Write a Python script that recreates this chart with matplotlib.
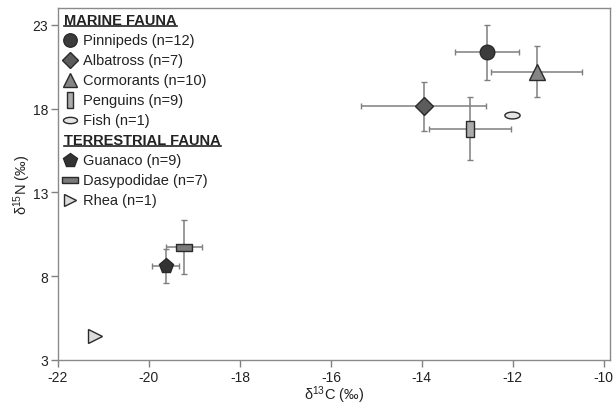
import numpy as np
import matplotlib
matplotlib.use("Agg")
import matplotlib.pyplot as plt
from matplotlib.lines import Line2D

plt.rcParams['font.family'] = ['Liberation Sans', 'DejaVu Sans']
plt.rcParams['mathtext.fontset'] = 'custom'
plt.rcParams['mathtext.rm'] = 'Liberation Sans'
plt.rcParams['mathtext.it'] = 'Liberation Sans:italic'
plt.rcParams['mathtext.bf'] = 'Liberation Sans:bold'

# group means and standard deviations
species = ["Pinnipeds (n=12)", "Albatross (n=7)", "Cormorants (n=10)", "Penguins (n=9)",
           "Fish (n=1)", "Guanaco (n=9)", "Dasypodidae (n=7)", "Rhea (n=1)"]
d13c = [-12.57, -13.96, -11.47, -12.95, -12.02, -19.63, -19.23, -21.19]
d15n = [21.35, 18.12, 20.2, 16.8, 17.64, 8.6, 9.73, 4.43]
sd_c = [0.7, 1.37, 1.0, 0.9, 0.0, 0.3, 0.4, 0.0]
sd_n = [1.65, 1.45, 1.5, 1.9, 0.0, 1.0, 1.6, 0.0]
marine = species[:5]
terrestrial = species[5:]

x_ticks = [-22, -20, -18, -16, -14, -12, -10]
y_ticks = [3, 8, 13, 18, 23]

# marker styles
tall_rect = [(-0.45, -1), (0.45, -1), (0.45, 1), (-0.45, 1), (-0.45, -1)]
wide_rect = [(-1, -0.42), (1, -0.42), (1, 0.42), (-1, 0.42), (-1, -0.42)]
t = np.linspace(0, 2 * np.pi, 40)
ellipse = list(zip(np.cos(t), 0.45 * np.sin(t)))
styles = {
    "Pinnipeds (n=12)": dict(marker='o', ms=10.5, fc='#3c3c3c'),
    "Albatross (n=7)": dict(marker='D', ms=9, fc='#5c5c5c'),
    "Cormorants (n=10)": dict(marker='^', ms=11, fc='#858585'),
    "Penguins (n=9)": dict(marker=tall_rect, ms=12, fc='#ababab'),
    "Fish (n=1)": dict(marker=ellipse, ms=11, fc='#e4e4e4'),
    "Guanaco (n=9)": dict(marker='p', ms=11, fc='#333333'),
    "Dasypodidae (n=7)": dict(marker=wide_rect, ms=12, fc='#7a7a7a'),
    "Rhea (n=1)": dict(marker='>', ms=10, fc='#dcdcdc'),
}

fig = plt.figure(figsize=(6.13, 4.06), dpi=100)
ax = fig.add_axes([0.0946, 0.111, 0.9, 0.867])

for i, name in enumerate(species):
    st = styles[name]
    if sd_c[i] > 0 or sd_n[i] > 0:
        ax.errorbar(d13c[i], d15n[i], xerr=sd_c[i], yerr=sd_n[i], fmt='none',
                    ecolor='#7f7f7f', elinewidth=1.1, capsize=2, capthick=1, zorder=2)
    ax.plot(d13c[i], d15n[i], linestyle='none', marker=st['marker'], ms=st['ms'],
            mfc=st['fc'], mec='#2a2a2a', mew=1.0, zorder=3)

ax.set_xlim(-22, -9.87)
ax.set_ylim(3, 24.0)
ax.set_xticks(x_ticks)
ax.set_xticklabels([str(v) for v in x_ticks])
ax.set_yticks(y_ticks)
ax.tick_params(direction='out', length=5, width=1, color='#808080',
               labelsize=10, labelcolor='#222222', pad=2)
for s in ax.spines.values():
    s.set_color('#8a8a8a')
    s.set_linewidth(1.0)

ax.set_xlabel(r"δ$^{13}$C (‰)", fontsize=10.5, color='#222222', labelpad=0)
ax.set_ylabel(r"δ$^{15}$N (‰)", fontsize=10.5, color='#222222')
ax.yaxis.set_label_coords(-0.045, 0.5)

# hand-made legend in pixel-like axes fraction coordinates
def px_to_ax(px, py):
    bb = ax.get_position()
    fx = (px / 613 - bb.x0) / bb.width
    fy = ((406 - py) / 406 - bb.y0) / bb.height
    return fx, fy

def header(text, py):
    fx, fy = px_to_ax(64, py)
    tx = ax.text(fx, fy, text, transform=ax.transAxes, fontsize=10.5, fontweight='bold',
                 va='center', ha='left', color='#222222')
    return tx

rows_y = {}
y = 21
headers = []
headers.append((header("MARINE FAUNA", y), y))
for name in marine:
    y += 20
    rows_y[name] = y
y += 20
headers.append((header("TERRESTRIAL FAUNA", y), y))
for name in terrestrial:
    y += 20
    rows_y[name] = y

for name, py in rows_y.items():
    st = styles[name]
    mx, my = px_to_ax(70, py)
    ax.plot(mx, my, transform=ax.transAxes, linestyle='none', marker=st['marker'],
            ms=st['ms'] * 0.92, mfc=st['fc'], mec='#2a2a2a', mew=1.0, clip_on=False)
    tx, ty = px_to_ax(83, py)
    ax.text(tx, ty, name, transform=ax.transAxes, fontsize=10.5, va='center',
            ha='left', color='#222222')

# underline the headers
fig.canvas.draw()
renderer = fig.canvas.get_renderer()
inv = ax.transAxes.inverted()
for tx, py in headers:
    bb = tx.get_window_extent(renderer)
    (x0, y0), (x1, _) = inv.transform([(bb.x0, bb.y0), (bb.x1, bb.y1)])
    ax.add_line(Line2D([x0, x1], [y0 + 0.002, y0 + 0.002], transform=ax.transAxes,
                       color='#222222', lw=1.2))

fig.savefig("out.png", dpi=100)
